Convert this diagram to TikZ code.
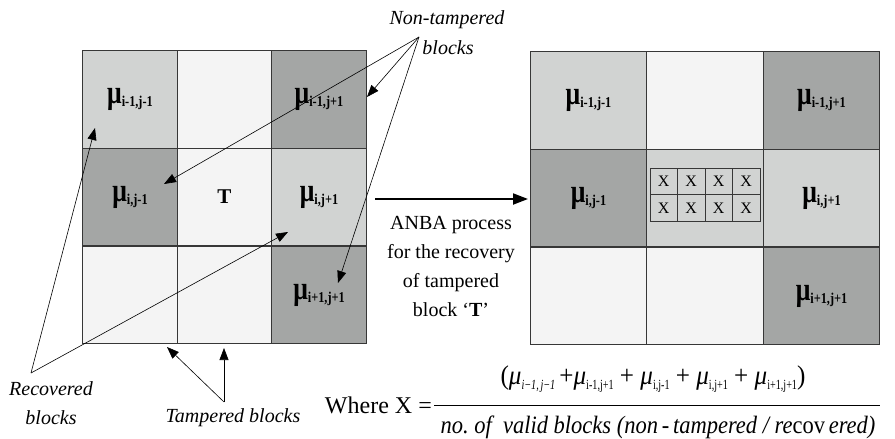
\documentclass[tikz,border=0pt]{standalone}
\usepackage{fontspec}
\usepackage{graphicx}
\setmainfont{Liberation Serif}
\usetikzlibrary{arrows.meta}

\definecolor{gLight}{RGB}{209,211,210}
\definecolor{gDark}{RGB}{164,166,165}
\definecolor{gPale}{RGB}{244,244,244}
\definecolor{gEdge}{RGB}{55,55,55}

% bold mu with a bold subscript, as printed inside the blocks
\newcommand\mublk[1]{{\fontsize{33}{33}\selectfont\bfseries\scalebox{0.78}[1]{μ}}\raisebox{-3pt}{\fontsize{15}{15}\selectfont\bfseries\scalebox{0.82}[1]{#1}}}
% italic mu with an upright subscript, used in the formula
\newcommand\muit[1]{{\itshape μ}\raisebox{-5pt}{\fontsize{14}{14}\selectfont\scalebox{0.78}[1]{#1}}}

\tikzset{
  lcell/.style={draw=gEdge, line width=0.9pt, inner sep=0pt, minimum width=94.3pt, minimum height=97.7pt},
  rcell/.style={draw=gEdge, line width=0.9pt, inner sep=0pt, minimum width=116.7pt, minimum height=97.7pt},
  xcell/.style={draw=gEdge, line width=0.8pt, inner sep=0pt, minimum width=27.5pt, minimum height=26.8pt,
    font=\fontsize{16}{16}\selectfont},
  note/.style={font=\fontsize{20}{20}\selectfont\itshape, inner sep=0pt},
  pointer/.style={line width=0.6pt, -{Triangle[length=12pt,width=9pt]}},
}

\begin{document}
\begin{tikzpicture}[x=1pt, y=-1pt]
\useasboundingbox (0,0) rectangle (895,439);

% ---- left 3x3 neighbourhood (before recovery)
\node[lcell, fill=gLight] (L11) at (130,99.5)  {\mublk{i-1,j-1}};
\node[lcell, fill=gPale]  (L12) at (224.5,99.5) {};
\node[lcell, fill=gDark]  (L13) at (319,99.5)  {\mublk{i-1,j+1}};
\node[lcell, fill=gDark]  (L21) at (130,197)   {\mublk{i,j-1}};
\node[lcell, fill=gPale]  (L22) at (224.5,197) {\fontsize{21}{21}\selectfont\bfseries T};
\node[lcell, fill=gLight] (L23) at (319,197)   {\mublk{i,j+1}};
\node[lcell, fill=gPale]  (L31) at (130,295)   {};
\node[lcell, fill=gPale]  (L32) at (224.5,295) {};
\node[lcell, fill=gDark]  (L33) at (319,295)   {\mublk{i+1,j+1}};

% ---- right 3x3 neighbourhood (after recovery)
\node[rcell, fill=gLight] (R11) at (588.5,100.5) {\mublk{i-1,j-1}};
\node[rcell, fill=gPale]  (R12) at (705,100.5)   {};
\node[rcell, fill=gDark]  (R13) at (821.5,100.5) {\mublk{i-1,j+1}};
\node[rcell, fill=gDark]  (R21) at (588.5,198)   {\mublk{i,j-1}};
\node[rcell, fill=gLight] (R22) at (705,198)     {};
\node[rcell, fill=gLight] (R23) at (821.5,198)   {\mublk{i,j+1}};
\node[rcell, fill=gPale]  (R31) at (588.5,296)   {};
\node[rcell, fill=gPale]  (R32) at (705,296)     {};
\node[rcell, fill=gDark]  (R33) at (821.5,296)   {\mublk{i+1,j+1}};

% recovered pixels of the tampered block
\foreach \c [count=\k] in {663.75,691.25,718.75,746.25}{
  \node[xcell] (xa\k) at (\c,181.4) {X};
  \node[xcell] (xb\k) at (\c,208.2) {X};
}

% ---- process arrow and its caption
\coordinate (pa) at (375,199);
\coordinate (pb) at (528,199);
\draw[line width=2pt, -{Triangle[length=15pt,width=11pt]}] (pa) -- (pb);
\node[align=center, font=\fontsize{20}{29}\selectfont, inner sep=0pt] (cap) at (451,266)
  {ANBA process\\for the recovery\\of tampered\\block ‘\textbf{T}’};

% ---- annotations
\node[note] (ntA) at (447,20) {Non-tampered};
\node[note] (ntB) at (448,48) {blocks};
\coordinate (nt) at (419,37);
\coordinate (nt1) at (164,184);
\coordinate (nt2) at (367,97);
\coordinate (nt3) at (338,283);
\draw[pointer] (nt) -- (nt1);
\draw[pointer] (nt) -- (nt2);
\draw[pointer] (nt) -- (nt3);

\node[note] (rcA) at (51,389) {Recovered};
\node[note] (rcB) at (51,418) {blocks};
\coordinate (rc) at (31,373);
\coordinate (rc1) at (95,128);
\coordinate (rc2) at (288,232);
\draw[pointer] (rc) -- (rc1);
\draw[pointer] (rc) -- (rc2);

\node[note] (tb) at (233,418) {Tampered blocks};
\coordinate (tp) at (224,402);
\coordinate (tp1) at (167,347);
\coordinate (tp2) at (224,348);
\draw[pointer] (tp) -- (tp1);
\draw[pointer] (tp) -- (tp2);

% ---- averaging formula
\node[font=\fontsize{24}{24}\selectfont, inner sep=0pt, anchor=east] (wx) at (432,405) {Where X =};
\coordinate (fa) at (434,405);
\coordinate (fb) at (880,405);
\draw[line width=0.9pt] (fa) -- (fb);
\node[font=\fontsize{27}{27}\selectfont, inner sep=0pt] (num) at (653,379)
  {\scalebox{0.93}[1]{(\muit{\itshape i−1,\,j−1}\,+\muit{i-1,j+1} + \muit{i,j-1} + \muit{i,j+1} + \muit{i+1,j+1})}};
\node[font=\fontsize{25}{25}\selectfont, inner sep=0pt] (den) at (658,427)
  {\scalebox{0.9}[1]{\itshape no.\ of\ \ valid blocks (non\,-\,tampered / re\upshape cov\,\itshape ered)}};
\end{tikzpicture}
\end{document}
